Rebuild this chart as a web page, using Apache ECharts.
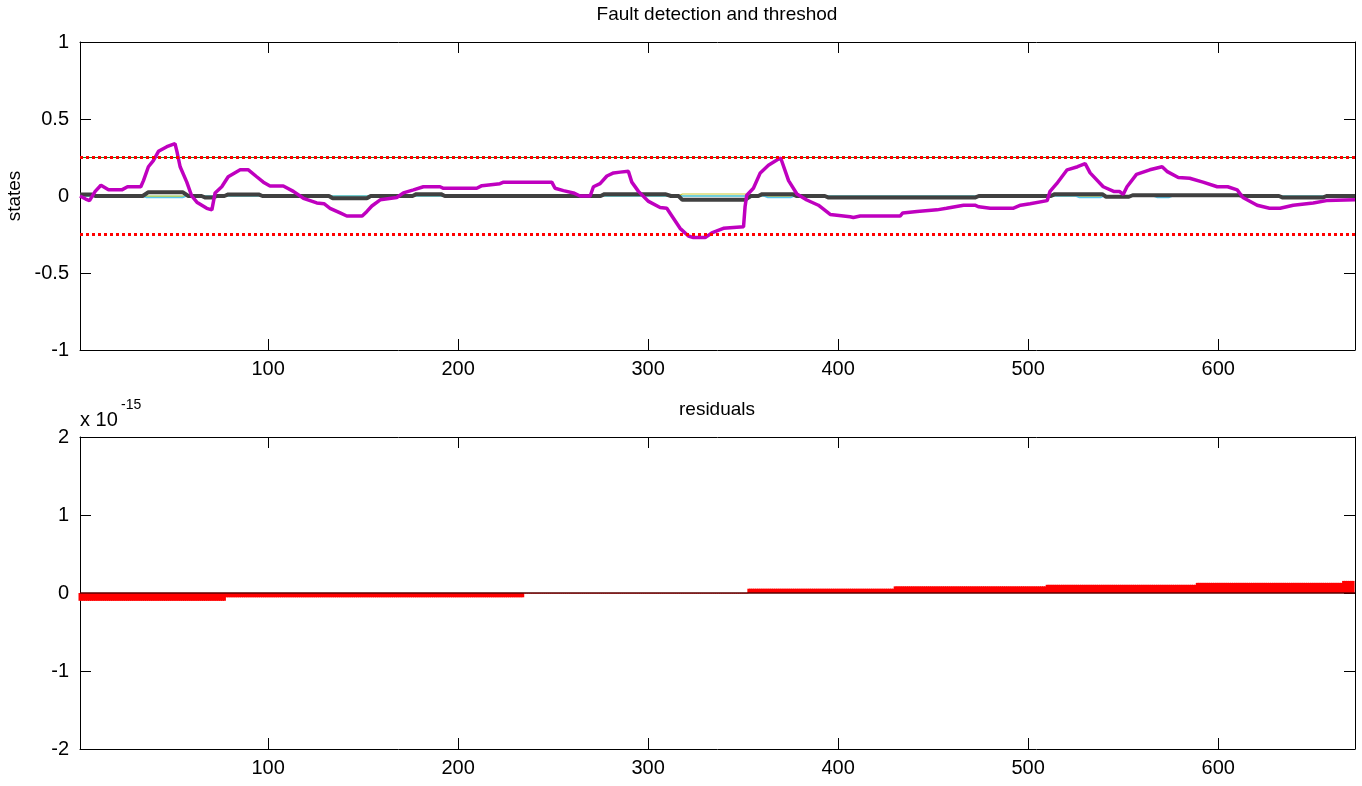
<!DOCTYPE html>
<html>
<head>
<meta charset="utf-8">
<script src="https://cdn.jsdelivr.net/npm/echarts@6/dist/echarts.min.js"></script>
<style>
html,body{margin:0;padding:0;background:#fff;}
#chart{width:1362px;height:786px;}
</style>
</head>
<body>
<div id="chart"></div>
<script>
// ---------- data ----------
const xTicks = [100, 200, 300, 400, 500, 600];
const topYTicks = [-1, -0.5, 0, 0.5, 1];
const bottomYTicks = [-2, -1, 0, 1, 2];
const thresholdUpper = 0.25;
const thresholdLower = -0.25;

// magenta state trace (sample, value)
const purpleX = [1,4,6,9,12,16,23,26,33,34.4,37,39.6,42.3,46.7,51,52,53.7,57.2,59.8,62.5,67.7,70.4,72.1,75.6,79,85.3,89.6,94,97.5,101,108,113.3,118.6,125.6,129.4,132.6,137.9,141.4,149.5,152,154.6,159,167.7,171.2,176.5,181.7,190.5,192.3,209.8,212.5,222,223.9,249.3,251,255.4,260.7,264.2,269.5,271.2,274.7,278.3,281.8,285.3,289.6,291.4,294.9,300.2,306.3,309.8,312.5,316.8,321.2,323.8,330,333.5,339.6,350.2,351,351.9,355.4,359,363.3,368.6,369.8,373.9,378.3,383.5,389.6,395.8,402.8,406.3,408,411.6,432.6,434,441.5,452,457,466,472,474,480,492,496,501,510,511.5,515,520.5,526,530,532.6,539.5,545,548,550,552,557,564,570.5,573,579,585,592,599.5,605,610,613,620.5,627,632.6,639.5,650,657,672];
const purpleY = [0,-0.02,-0.03,0.03,0.07,0.04,0.04,0.06,0.06,0.10,0.19,0.23,0.29,0.32,0.34,0.29,0.19,0.09,0.0,-0.04,-0.08,-0.09,0.02,0.06,0.125,0.17,0.17,0.125,0.09,0.065,0.065,0.03,-0.015,-0.045,-0.05,-0.08,-0.11,-0.13,-0.13,-0.10,-0.065,-0.025,-0.01,0.02,0.04,0.06,0.06,0.05,0.05,0.067,0.08,0.09,0.09,0.05,0.035,0.02,0,0,0.06,0.08,0.13,0.15,0.155,0.16,0.09,0.03,-0.035,-0.075,-0.08,-0.13,-0.21,-0.26,-0.27,-0.27,-0.24,-0.21,-0.2,-0.07,0.005,0.05,0.15,0.2,0.24,0.245,0.10,0.013,-0.026,-0.06,-0.12,-0.13,-0.135,-0.14,-0.13,-0.13,-0.11,-0.10,-0.09,-0.08,-0.06,-0.06,-0.07,-0.08,-0.08,-0.06,-0.05,-0.03,0.03,0.08,0.17,0.19,0.21,0.15,0.06,0.03,0.03,0.01,0.06,0.14,0.17,0.19,0.16,0.12,0.115,0.09,0.06,0.06,0.04,-0.01,-0.06,-0.08,-0.08,-0.06,-0.045,-0.03,-0.025];

// dark grey state trace
const grayX = [1,7,9,34,37,55,58,65,67,71,73,77,79,95,97,132,134,152,154,176,178,191,193,275,277,309,312,316,318,351,354,358,360,376,378,393,395,472,474,512,514,539,541,553,555,611,613,632,634,655,657,672];
const grayY = [0.01,0.01,0,0,0.025,0.025,0,0,-0.01,-0.01,0,0,0.01,0.01,0,0,-0.015,-0.015,0,0,0.012,0.012,0,0,0.012,0.012,0,0,-0.025,-0.025,0,0,0.012,0.012,0,0,-0.01,-0.01,0,0,0.012,0.012,-0.005,-0.005,0.005,0.005,0,0,-0.01,-0.01,0,0];

// thin near-zero traces
const greenX = [1,672];
const greenY = [0,0];
const cyanX = [1,34,36,55,57,361,363,375,377,525,527,538,540,566,568,574,576,672];
const cyanY = [0,0,-0.01,-0.01,0,0,-0.01,-0.01,0,0,-0.01,-0.01,0,0,-0.01,-0.01,0,0];
const yellowX = [1,34,36,55,57,316,318,351,353,672];
const yellowY = [0,0,-0.006,-0.006,0,0,0.013,0.013,0,0];

// residual staircase (units of 1e-15)
const resStarts = [1, 78, 235, 353, 430, 510, 589, 666];
const resEnds   = [77, 234, 352, 429, 509, 588, 665, 671];
const resValues = [-0.1, -0.055, -0.005, 0.055, 0.085, 0.105, 0.13, 0.155];

// ---------- build ----------
const zip = (xs, ys) => xs.map((x, i) => [x, ys[i]]);
const residualData = [];
resStarts.forEach((s, b) => {
  for (let x = s; x <= resEnds[b]; x++) residualData.push([x, resValues[b]]);
});

const FONT = "'Liberation Sans', Arial, sans-serif";
const XMIN = 1, XMAX = 672;
const tickStyle = {show: true, inside: true, length: 11, lineStyle: {color: '#000', width: 1}};
const lineAxis = {show: true, onZero: false, lineStyle: {color: '#000', width: 1}};

function xAxes(gi) {
  return [
    {type: 'value', gridIndex: gi, min: XMIN, max: XMAX, position: 'bottom',
     axisLine: lineAxis, splitLine: {show: false},
     axisTick: Object.assign({}, tickStyle, {customValues: xTicks}),
     axisLabel: {customValues: xTicks, color: '#000', fontSize: 20, fontFamily: FONT, margin: 9}},
    {type: 'value', gridIndex: gi, min: XMIN, max: XMAX, position: 'top',
     axisLine: lineAxis, splitLine: {show: false},
     axisTick: Object.assign({}, tickStyle, {customValues: xTicks}),
     axisLabel: {show: false}}
  ];
}
function yAxes(gi, mn, mx, step) {
  return [
    {type: 'value', gridIndex: gi, min: mn, max: mx, interval: step, position: 'left',
     axisLine: lineAxis, splitLine: {show: false}, axisTick: tickStyle,
     axisLabel: {color: '#000', fontSize: 20, fontFamily: FONT, margin: 11}},
    {type: 'value', gridIndex: gi, min: mn, max: mx, interval: step, position: 'right',
     axisLine: lineAxis, splitLine: {show: false}, axisTick: tickStyle,
     axisLabel: {show: false}}
  ];
}

function thinLine(name, xs, ys, color, w) {
  return {name, type: 'line', xAxisIndex: 0, yAxisIndex: 0, data: zip(xs, ys),
    showSymbol: false, symbol: 'none', lineStyle: {color, width: w}, animation: false, silent: true};
}

const option = {
  animation: false,
  backgroundColor: '#fff',
  grid: [
    {left: 80, right: 7, top: 42, height: 308},
    {left: 80, right: 7, top: 437, height: 312}
  ],
  xAxis: [...xAxes(0), ...xAxes(1)],
  yAxis: [...yAxes(0, topYTicks[0], topYTicks[4], 0.5), ...yAxes(1, bottomYTicks[0], bottomYTicks[4], 1)],
  series: [
    thinLine('green', greenX, greenY, '#8CC63F', 1.2),
    thinLine('upperGreen', [XMIN, XMAX], [thresholdUpper, thresholdUpper], '#1E7B1E', 1.2),
    thinLine('yellow', yellowX, yellowY, '#C9C930', 1.2),
    thinLine('cyan', cyanX, cyanY, '#55C8EE', 1.5),
    thinLine('gray', grayX, grayY, '#404040', 4),
    thinLine('purple', purpleX, purpleY, '#BF00BF', 3.5),
    {name: 'upper', type: 'line', xAxisIndex: 0, yAxisIndex: 0,
     data: [[XMIN, thresholdUpper], [XMAX, thresholdUpper]], symbol: 'none',
     lineStyle: {color: '#FF0000', width: 3, type: [3, 3]}},
    {name: 'lower', type: 'line', xAxisIndex: 0, yAxisIndex: 0,
     data: [[XMIN, thresholdLower], [XMAX, thresholdLower]], symbol: 'none',
     lineStyle: {color: '#FF0000', width: 3, type: [3, 3]}},
    {name: 'residuals', type: 'bar', xAxisIndex: 2, yAxisIndex: 2,
     data: residualData, barWidth: 3, itemStyle: {color: '#FF0000', borderWidth: 0}, silent: true,
     markLine: {silent: true, symbol: 'none', label: {show: false},
       lineStyle: {color: '#5A0000', width: 1.5, type: 'solid'},
       data: [{yAxis: 0}]}}
  ],
  graphic: [
    {type: 'text', style: {text: 'Fault detection and threshod', x: 717, y: 15,
      font: `19px ${FONT}`, fill: '#000', textAlign: 'center', textVerticalAlign: 'middle'}},
    {type: 'text', style: {text: 'residuals', x: 717, y: 410,
      font: `19px ${FONT}`, fill: '#000', textAlign: 'center', textVerticalAlign: 'middle'}},
    {type: 'text', x: 15, y: 196, rotation: Math.PI / 2, style: {text: 'states', x: 0, y: 0,
      font: `19px ${FONT}`, fill: '#000', textAlign: 'center', textVerticalAlign: 'middle'}},
    {type: 'text', style: {text: 'x 10', x: 80, y: 420,
      font: `20px ${FONT}`, fill: '#000', textAlign: 'left', textVerticalAlign: 'middle'}},
    {type: 'text', style: {text: '-15', x: 121, y: 405,
      font: `14px ${FONT}`, fill: '#000', textAlign: 'left', textVerticalAlign: 'middle'}}
  ]
};

const chart = echarts.init(document.getElementById('chart'), null, {renderer: 'canvas'});
chart.setOption(option);
</script>
</body>
</html>
